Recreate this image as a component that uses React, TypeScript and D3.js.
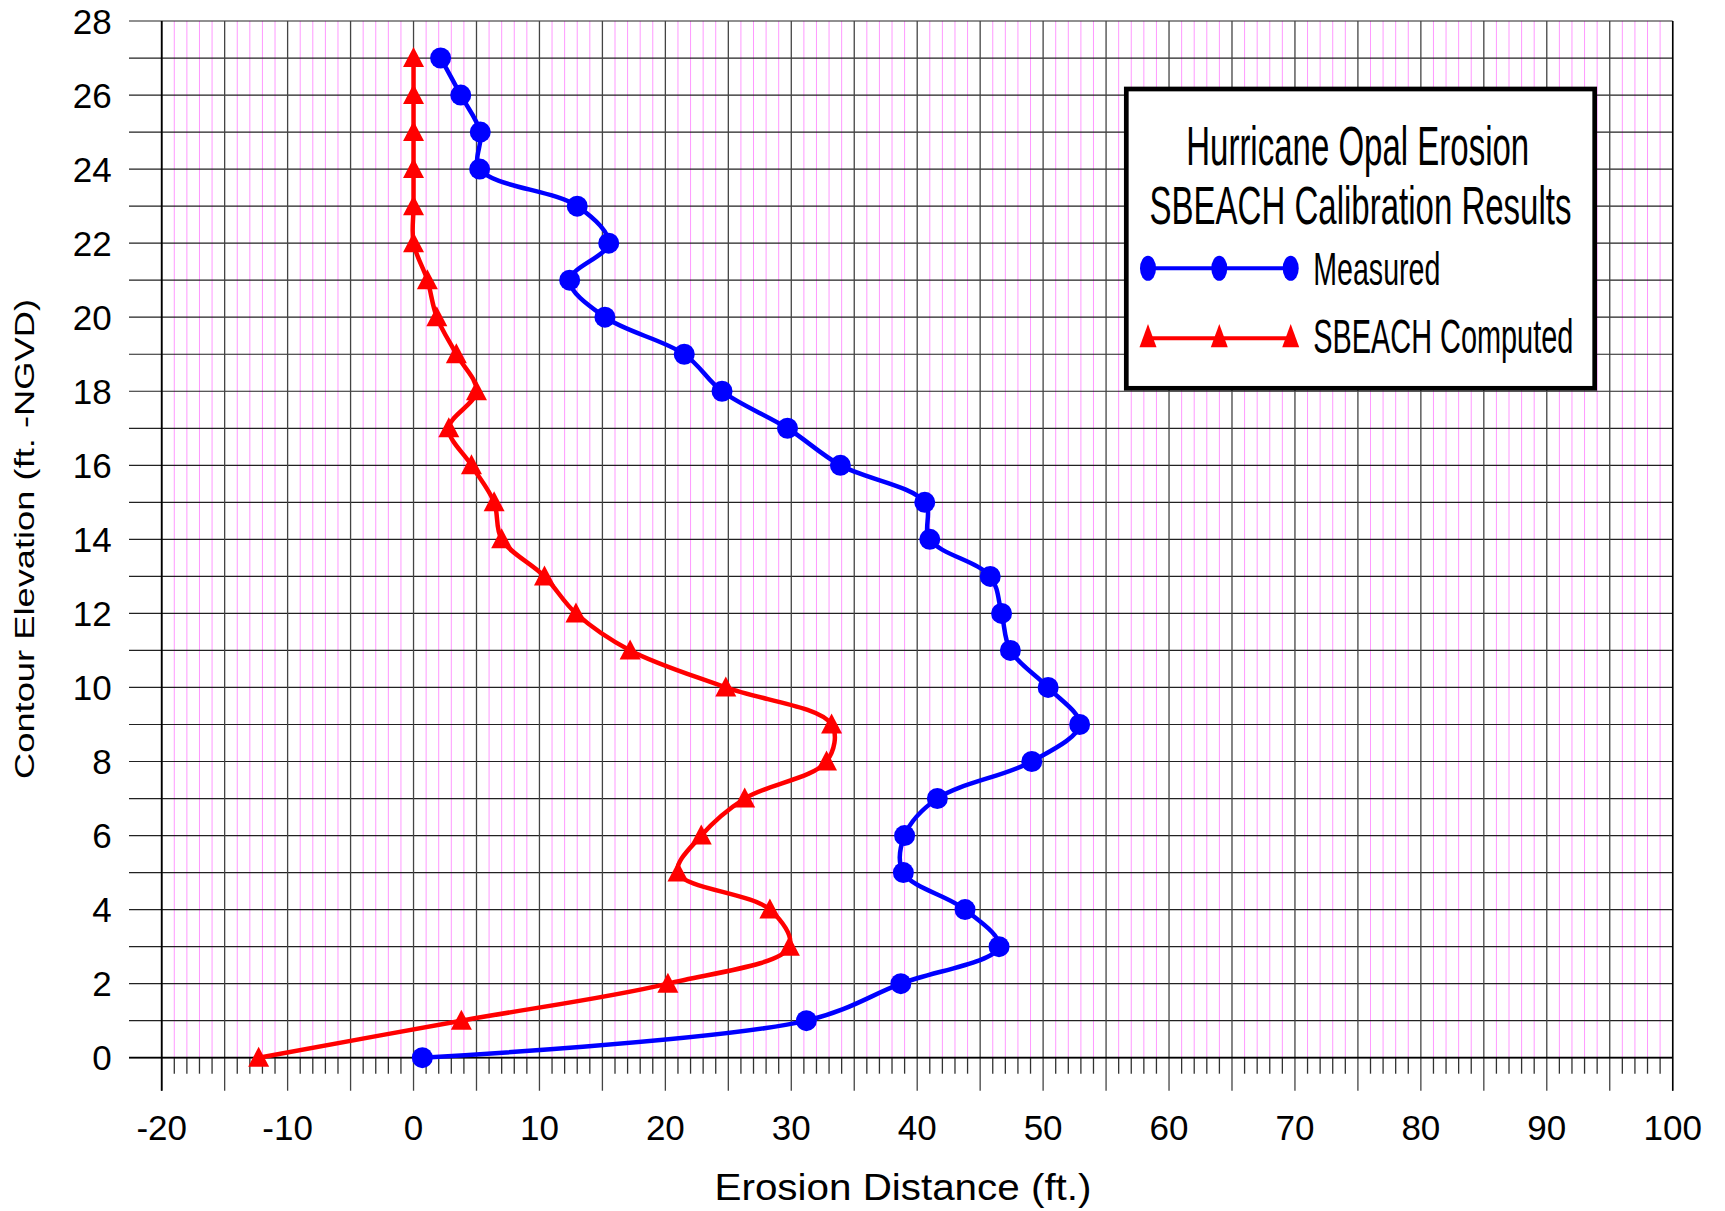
import React from "react";
import * as d3 from "d3";

const elevations = [0, 1, 2, 3, 4, 5, 6, 7, 8, 9, 10, 11, 12, 13, 14, 15, 16, 17, 18, 19, 20, 21, 22, 23, 24, 25, 26, 27];
const measured = [0.7, 31.2, 38.7, 46.5, 43.8, 38.9, 39.0, 41.6, 49.1, 52.9, 50.4, 47.4, 46.7, 45.8, 41.0, 40.6, 33.9, 29.7, 24.5, 21.5, 15.2, 12.4, 15.5, 13.0, 5.25, 5.3, 3.75, 2.15];
const computed = [-12.3, 3.8, 20.2, 29.85, 28.3, 21.0, 22.85, 26.3, 32.8, 33.2, 24.8, 17.2, 12.9, 10.4, 7.0, 6.4, 4.6, 2.8, 5.0, 3.4, 1.85, 1.1, 0.0, 0.0, 0.0, 0.0, 0.0, 0.0];

const xTickLabels = [-20, -10, 0, 10, 20, 30, 40, 50, 60, 70, 80, 90, 100];
const yTickLabels = [0, 2, 4, 6, 8, 10, 12, 14, 16, 18, 20, 22, 24, 26, 28];

const legendTitle = ["Hurricane Opal Erosion", "SBEACH Calibration Results"];
const seriesNames = ["Measured", "SBEACH Computed"];
const xTitle = "Erosion Distance (ft.)";
const yTitle = "Contour Elevation (ft. -NGVD)";

export default function App() {
  const W = 1725, H = 1211;
  const x = d3.scaleLinear().domain([-20, 100]).range([161.7, 1672.7]);
  const y = d3.scaleLinear().domain([0, 28]).range([1057.7, 21]);

  const minorX = d3.range(-20, 101, 1);
  const rowsY = d3.range(0, 29, 1);

  const line = d3
    .line<[number, number]>()
    .x((d) => x(d[0]))
    .y((d) => y(d[1]))
    .curve(d3.curveCatmullRom.alpha(0.5));

  const measPts: [number, number][] = elevations.map((e, i) => [measured[i], e]);
  const compPts: [number, number][] = elevations.map((e, i) => [computed[i], e]);

  const tri = (cx: number, cy: number, hw: number, up: number, down: number) =>
    `M${cx},${cy - up}L${cx + hw},${cy + down}L${cx - hw},${cy + down}Z`;

  const font = "Arial, 'Liberation Sans', Helvetica, sans-serif";

  const legX = [1148, 1219.3, 1290.7];

  const tallText = (
    key: string,
    txt: string,
    tx: number,
    ty: number,
    fs: number,
    sy: number,
    len: number,
    anchor: "start" | "middle"
  ) => (
    <g key={key} transform={`translate(${tx},${ty}) scale(1,${sy})`}>
      <text
        x={0}
        y={0}
        textAnchor={anchor}
        fontFamily={font}
        fontSize={fs}
        textLength={len}
        lengthAdjust="spacingAndGlyphs"
        fill="#000"
      >
        {txt}
      </text>
    </g>
  );

  return (
    <svg width={W} height={H} style={{ position: "absolute", left: 0, top: 0, display: "block", background: "#fff" }}>
      <rect x={0} y={0} width={W} height={H} fill="#fff" />
      {/* minor pink verticals */}
      {minorX.filter((v) => v % 5 !== 0).map((v) => (
        <line key={"p" + v} x1={x(v)} x2={x(v)} y1={y(28)} y2={y(0)} stroke="#ff99ff" strokeWidth={1} />
      ))}
      {/* horizontal gridlines + left ticks */}
      {rowsY.map((v) => (
        <line key={"h" + v} x1={129} x2={x(100)} y1={y(v)} y2={y(v)} stroke="#222" strokeWidth={1.2} />
      ))}
      {/* major vertical gridlines */}
      {minorX.filter((v) => v % 5 === 0).map((v) => (
        <line key={"m" + v} x1={x(v)} x2={x(v)} y1={y(28)} y2={y(0) + 33} stroke="#444" strokeWidth={1.3} />
      ))}
      {/* minor x ticks */}
      {minorX.filter((v) => v % 5 !== 0).map((v) => (
        <line key={"t" + v} x1={x(v)} x2={x(v)} y1={y(0)} y2={y(0) + 16} stroke="#333" strokeWidth={1.3} />
      ))}
      {/* axes */}
      <line x1={x(-20)} x2={x(-20)} y1={y(28)} y2={y(0) + 33} stroke="#000" strokeWidth={1.8} />
      <line x1={129} x2={x(100)} y1={y(0)} y2={y(0)} stroke="#000" strokeWidth={1.8} />
      <line x1={x(100)} x2={x(100)} y1={y(28)} y2={y(0) + 33} stroke="#000" strokeWidth={1.5} />

      {/* tick labels */}
      {xTickLabels.map((v) => (
        <text key={"xl" + v} x={x(v)} y={1140} textAnchor="middle" fontFamily={font} fontSize={35} fill="#000">
          {v}
        </text>
      ))}
      {yTickLabels.map((v) => (
        <text key={"yl" + v} x={111.7} y={y(v) + 12.5} textAnchor="end" fontFamily={font} fontSize={35} fill="#000">
          {v}
        </text>
      ))}

      {/* axis titles */}
      <text x={903} y={1200} textAnchor="middle" fontFamily={font} fontSize={37} textLength={377} lengthAdjust="spacingAndGlyphs" fill="#000">
        {xTitle}
      </text>
      <text
        transform={`translate(33.5,539) rotate(-90)`}
        textAnchor="middle"
        fontFamily={font}
        fontSize={27}
        textLength={480}
        lengthAdjust="spacingAndGlyphs"
        fill="#000"
      >
        {yTitle}
      </text>

      {/* series */}
      <path d={line(compPts) || ""} fill="none" stroke="#ff0000" strokeWidth={4.5} strokeLinejoin="round" />
      <path d={line(measPts) || ""} fill="none" stroke="#0000ff" strokeWidth={4.5} strokeLinejoin="round" />
      {compPts.map((p, i) => (
        <path key={"ct" + i} d={tri(x(p[0]), y(p[1]), 10.5, 11, 9)} fill="#ff0000" />
      ))}
      {measPts.map((p, i) => (
        <circle key={"mc" + i} cx={x(p[0])} cy={y(p[1])} r={10.5} fill="#0000ff" />
      ))}

      {/* legend */}
      <rect x={1126.3} y={89} width={468.4} height={299.3} fill="#fff" stroke="#000" strokeWidth={4.7} />
      {tallText("lt1", legendTitle[0], 1357.7, 165, 33, 1.7, 343, "middle")}
      {tallText("lt2", legendTitle[1], 1360.5, 224.3, 33, 1.65, 422, "middle")}
      <line x1={legX[0]} x2={legX[2]} y1={268.3} y2={268.3} stroke="#0000ff" strokeWidth={4} />
      {legX.map((lx) => (
        <ellipse key={"le" + lx} cx={lx} cy={268.3} rx={8} ry={12.5} fill="#0000ff" />
      ))}
      <line x1={legX[0]} x2={legX[2]} y1={338.3} y2={338.3} stroke="#ff0000" strokeWidth={4} />
      {legX.map((lx) => (
        <path key={"lt" + lx} d={tri(lx, 338.3, 8.5, 14.3, 9)} fill="#ff0000" />
      ))}
      {tallText("ls1", seriesNames[0], 1313.3, 285, 28.6, 1.63, 127, "start")}
      {tallText("ls2", seriesNames[1], 1313.3, 352.7, 28.9, 1.66, 260, "start")}
    </svg>
  );
}
